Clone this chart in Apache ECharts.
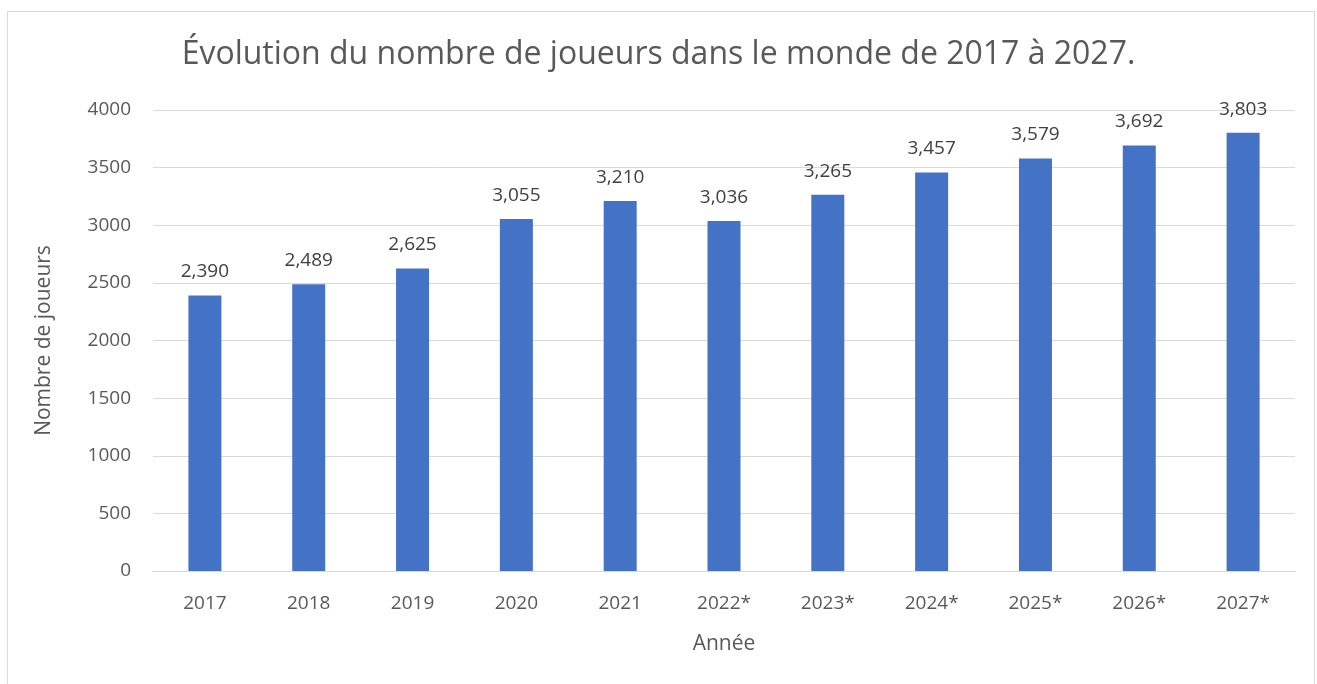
<!DOCTYPE html>
<html>
<head>
<meta charset="utf-8">
<script src="https://cdn.jsdelivr.net/npm/echarts@6/dist/echarts.min.js"></script>
<style>
  html, body { margin: 0; padding: 0; background: #fff; }
  #frame { position: absolute; left: 7px; top: 11px; width: 1308px; height: 680px;
           border: 1px solid #d9d9d9; border-bottom: none; box-sizing: border-box; }
  #chart { position: absolute; left: 0; top: 0; width: 1317px; height: 684px; }
</style>
</head>
<body>
<div id="frame"></div>
<div id="chart"></div>
<script>
const years = ["2017", "2018", "2019", "2020", "2021", "2022*", "2023*", "2024*", "2025*", "2026*", "2027*"];
const players = [2390, 2489, 2625, 3055, 3210, 3036, 3265, 3457, 3579, 3692, 3803];
const yTicks = [0, 500, 1000, 1500, 2000, 2500, 3000, 3500, 4000];

const font = "'Open Sans', 'Noto Sans', sans-serif";
const chart = echarts.init(document.getElementById("chart"));

chart.setOption({
  animation: false,
  title: {
    text: "Évolution du nombre de joueurs dans le monde de 2017 à 2027.",
    left: "center",
    top: 34,
    textStyle: { fontFamily: font, fontSize: 32, fontWeight: "normal", color: "#595959" },
  },
  grid: { left: 153, right: 22, top: 110, bottom: 113 },
  xAxis: {
    type: "category",
    data: years,
    name: "Année",
    nameLocation: "middle",
    nameGap: 63,
    nameTextStyle: { fontFamily: font, fontSize: 21, color: "#595959" },
    axisLine: { lineStyle: { color: "#d9d9d9", width: 1 } },
    axisTick: { show: false },
    axisLabel: { fontFamily: font, fontSize: 19, color: "#595959", margin: 23 },
  },
  yAxis: {
    type: "value",
    min: yTicks[0],
    max: yTicks[yTicks.length - 1],
    interval: 500,
    name: "Nombre de joueurs",
    nameLocation: "middle",
    nameGap: 98,
    nameTextStyle: { fontFamily: font, fontSize: 21, color: "#595959" },
    axisLine: { show: false },
    axisTick: { show: false },
    axisLabel: { fontFamily: font, fontSize: 19, color: "#595959", margin: 22, formatter: (v) => String(v) },
    splitLine: { lineStyle: { color: "#d9d9d9", width: 1 } },
  },
  series: [
    {
      type: "bar",
      data: players,
      barWidth: 33,
      itemStyle: { color: "#4472c4" },
      label: {
        show: true,
        position: "top",
        distance: 14,
        fontFamily: font,
        fontSize: 19,
        color: "#404040",
        formatter: (p) => p.value.toLocaleString("en-US"),
      },
    },
  ],
});
</script>
</body>
</html>
